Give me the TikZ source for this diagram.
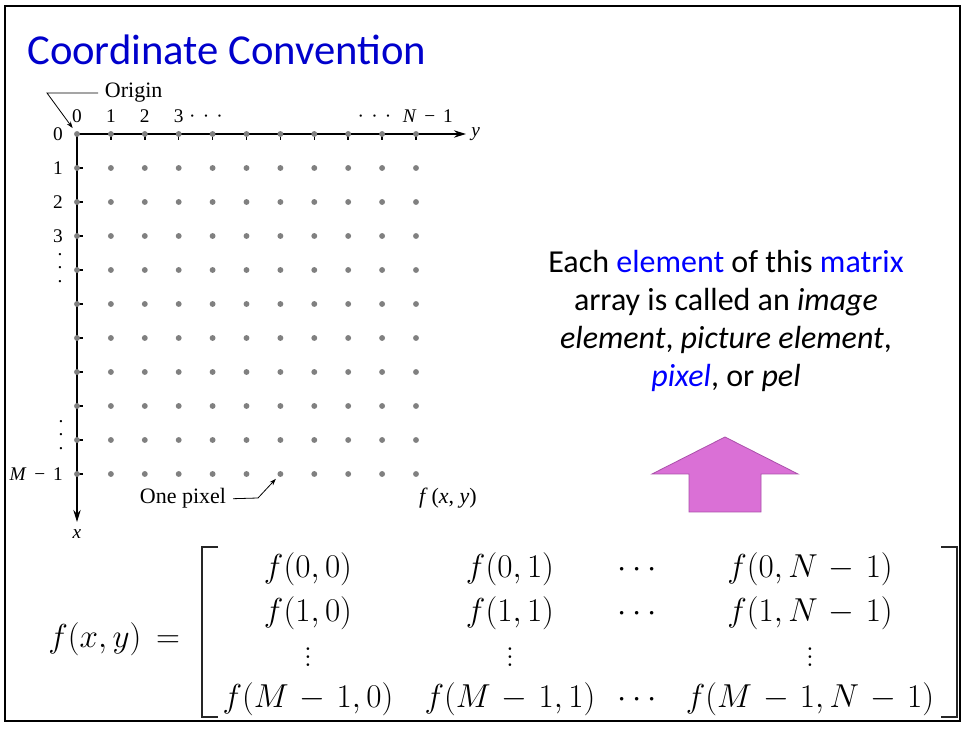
\documentclass[tikz,border=0pt]{standalone}
\usepackage{fontspec}
\usepackage{tikz}
\usetikzlibrary{arrows.meta}
\newfontfamily\slidefont{Carlito}
\newfontfamily\figfont{Liberation Serif}
\definecolor{titleblue}{RGB}{0,0,204}
\definecolor{wordblue}{RGB}{0,0,255}
\definecolor{pixgray}{RGB}{128,128,128}
\definecolor{arrowfill}{RGB}{218,112,214}
\definecolor{arrowedge}{RGB}{170,80,170}
\newcommand{\spreadvdots}[1]{\vbox{\baselineskip=#1\lineskiplimit=0pt\hbox{.}\hbox{.}\hbox{.}}}
\newcommand{\gapminus}{\hspace{.4em}−\hspace{.4em}}
\newcommand{\widemath}{\medmuskip=6mu\relax\thickmuskip=8mu\relax}
\tikzset{
  pixdot/.style    = {fill=pixgray},
  axisarr/.style   = {-{Stealth[length=9pt,width=5.5pt]},line width=1.4pt},
  tickmk/.style    = {line width=1.1pt},
  leaderarr/.style = {-{Stealth[length=5pt,width=3.5pt]},line width=0.6pt},
  axlbl/.style     = {inner sep=0pt,font=\figfont\fontsize{14.5}{16}\selectfont},
  calllbl/.style   = {inner xsep=5pt,inner ysep=1pt,font=\figfont\fontsize{16.5}{19}\selectfont},
  entry/.style     = {anchor=base,inner sep=0pt,font=\fontsize{24.88}{30}\selectfont},
  bracket/.style   = {line width=1.2pt,black!85},
  uparrow/.style   = {fill=arrowfill,draw=arrowedge,line width=0.6pt}
}

\begin{document}
\begin{tikzpicture}[x=0.75pt,y=-0.75pt]
  \fill[white] (0,0) rectangle (965,730);
  \useasboundingbox (0,0) rectangle (965,730);
  \draw[line width=2.2pt] (5,6) rectangle (960,721);
  \node[anchor=base west,inner sep=0pt,text=titleblue,font=\slidefont\fontsize{32}{38}\selectfont]
    (title) at (27,65) {Coordinate Convention};

  % pixel grid
  \coordinate (orig) at (77,134);
  \coordinate (yend) at (466,134);
  \coordinate (xend) at (77,522);
  \draw[axisarr] (orig) -- (yend);
  \draw[axisarr] (orig) -- (xend);
  \foreach \k in {1,...,10}{
    \draw[tickmk] (77+33.9*\k,134) -- ++(0,6);
    \draw[tickmk] (77,134+34*\k) -- ++(6,0);
  }
  \foreach \r in {0,...,10}
    \foreach \c in {0,...,10}{
      \coordinate (p-\r-\c) at (77+33.9*\c,134+34*\r);
      \fill[pixdot] (p-\r-\c) circle (2.2pt);
    }

  \foreach \k/\cx in {0/77,1/110.9,2/144.8}
    \node[axlbl,anchor=base] (col\k) at (\cx,123) {\k};
  \node[axlbl,anchor=base west] (col3) at (173.5,123)
    {3\hspace{.3em}·\hspace{.37em}·\hspace{.37em}·};
  \node[axlbl,anchor=base east] (colN) at (453,123)
    {·\hspace{.37em}·\hspace{.37em}·\hspace{.6em}\textit{N}\gapminus 1};
  \foreach \k in {0,...,3}
    \node[axlbl,anchor=east] (row\k) at (63,134+34*\k) {\k};
  \node[axlbl,anchor=east] (rowM) at (63,474) {\textit{M}\gapminus 1};
  \node[axlbl] (rdots1) at (60,268) {\spreadvdots{10pt}};
  \node[axlbl] (rdots2) at (61,435) {\spreadvdots{10pt}};
  \node[axlbl,anchor=west] (ylbl) at (471,134) {\textit{y}};
  \node[axlbl] (xlbl) at (77,534) {\textit{x}};

  \node[calllbl,anchor=base west] (orglbl) at (98,98) {Origin};
  \coordinate (orgbend) at (47,93);
  \draw[leaderarr,shorten >=5.5pt] (orglbl.west) -- (orgbend) -- (orig);
  \node[calllbl,anchor=base west] (pixlbl) at (133,504) {One pixel};
  \coordinate (pixbend) at (258,498);
  \draw[leaderarr,shorten >=5pt] (pixlbl.east) -- (pixbend) -- (p-10-6);
  \node[calllbl] (fxylbl) at (448,498) {\textit{f}\,(\textit{x}, \textit{y})};

  % note and arrow
  \node[align=center,inner sep=0pt,font=\slidefont\fontsize{24}{28.5}\selectfont] (note) at (726,321)
    {Each {\color{wordblue}element} of this {\color{wordblue}matrix}\\
     array is called an \textit{image}\\
     \textit{element}, \textit{picture element},\\
     \textit{\color{wordblue}pixel}, or \textit{pel}};
  \draw[uparrow] (689,512) -- (689,474) -- (652,474) -- (725,437)
    -- (798,474) -- (761,474) -- (761,512) -- cycle;

  % matrix
  \node[entry,anchor=base west] (lhs) at (48,648) {\widemath$f(x,y) =$};
  \foreach \c/\cx in {0/308,1/510,N-1/810}{
    \node[entry] (m1-\cx) at (\cx,578) {\widemath$f(0,\c)$};
    \node[entry] (m2-\cx) at (\cx,622) {\widemath$f(1,\c)$};
    \node[entry] (m3-\cx) at (\cx,667) {\spreadvdots{6pt}};
    \node[entry] (m4-\cx) at (\cx,708) {\widemath$f(M-1,\c)$};
  }
  \foreach \ry/\k in {578/1,622/2,708/4}
    \node[entry] (m\k-dots) at (637,\ry) {$\cdots$};
  \draw[bracket] (218,547) -- (202,547) -- (202,717) -- (218,717);
  \draw[bracket] (941,547) -- (957,547) -- (957,717) -- (941,717);
\end{tikzpicture}
\end{document}
